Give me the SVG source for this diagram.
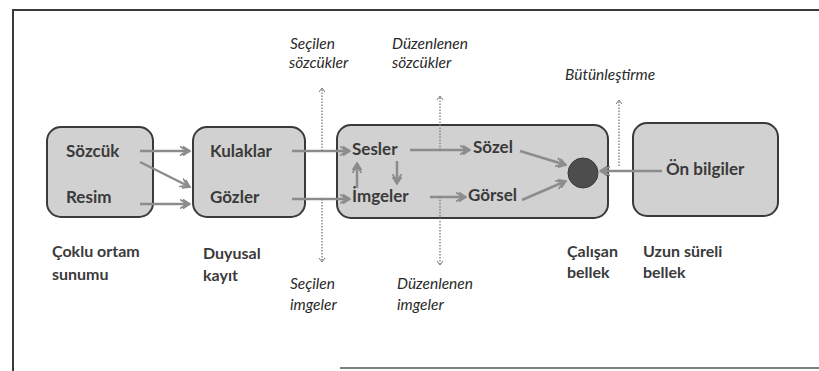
<svg xmlns="http://www.w3.org/2000/svg" width="819" height="371" viewBox="0 0 819 371">
  <style>
    .box { fill: #d1d1d1; stroke: #3a3a3a; stroke-width: 2; }
    .lbl { font-family: Lato, "Open Sans", sans-serif; font-weight: bold; font-size: 16px; fill: #3a3a3a; }
    .in { font-size: 17px; }
    .ital { font-family: Lato, "Open Sans", sans-serif; font-style: italic; font-size: 15.5px; fill: #2a2a2a; }
    .flow { fill: none; stroke: #8c8c8c; stroke-width: 2.5; marker-end: url(#chev); }
    .dot { fill: none; stroke: #7a7a7a; stroke-width: 1.3; stroke-dasharray: 1.5 1.5; marker-end: url(#tip); }
    .frame { stroke: #3a3a3a; stroke-width: 2; fill: none; }
  </style>
  <defs>
    <marker id="chev" viewBox="0 0 12 12" refX="10" refY="6" markerWidth="12" markerHeight="12" markerUnits="userSpaceOnUse" orient="auto">
      <path d="M3 1.5 L10 6 L3 10.5 M0 1.5 L7 6 L0 10.5" fill="none" stroke="#8c8c8c" stroke-width="1.6"/>
    </marker>
    <marker id="tip" viewBox="0 0 8 8" refX="4" refY="4" markerWidth="8" markerHeight="8" markerUnits="userSpaceOnUse" orient="auto">
      <path d="M0 1 L4 4 L0 7" fill="none" stroke="#7a7a7a" stroke-width="1"/>
    </marker>
  </defs>

  <rect width="819" height="371" fill="#ffffff"/>
  <!-- outer frame -->
  <path class="frame" d="M13 371 V10 H819"/>
  <path d="M340 368 H819" stroke="#555" stroke-width="1.5"/>

  <!-- multimedia presentation -->
  <g id="coklu-ortam">
    <rect class="box" x="47" y="127" width="106" height="90" rx="14"/>
    <text class="lbl in" x="66" y="157">Sözcük</text>
    <text class="lbl in" x="66" y="203">Resim</text>
  </g>

  <!-- sensory memory -->
  <g id="duyusal-kayit">
    <rect class="box" x="193" y="127" width="112" height="90" rx="14"/>
    <text class="lbl in" x="210" y="157">Kulaklar</text>
    <text class="lbl in" x="210" y="203">Gözler</text>
  </g>

  <!-- working memory -->
  <g id="calisan-bellek">
    <rect class="box" x="337" y="125" width="271" height="93" rx="14"/>
    <text class="lbl in" x="352" y="155">Sesler</text>
    <text class="lbl in" x="352" y="202">İmgeler</text>
    <text class="lbl in" x="473" y="153">Sözel</text>
    <text class="lbl in" x="468" y="201">Görsel</text>
    <circle cx="583" cy="173" r="15" fill="#4d4d4d" stroke="#3a3a3a" stroke-width="1"/>
  </g>

  <!-- long-term memory -->
  <g id="uzun-sureli-bellek">
    <rect class="box" x="633" y="123" width="145" height="93" rx="14"/>
    <text class="lbl in" x="666" y="175">Ön bilgiler</text>
  </g>

  <!-- column captions -->
  <g id="captions">
    <text class="lbl" x="52" y="257">Çoklu ortam</text>
    <text class="lbl" x="52" y="280">sunumu</text>
    <text class="lbl" x="203" y="259">Duyusal</text>
    <text class="lbl" x="203" y="281">kayıt</text>
    <text class="lbl" x="567" y="257">Çalışan</text>
    <text class="lbl" x="567" y="278">bellek</text>
    <text class="lbl" x="643" y="257">Uzun süreli</text>
    <text class="lbl" x="643" y="278">bellek</text>
  </g>

  <!-- process labels -->
  <g id="process-labels">
    <text class="ital" x="290" y="49">Seçilen</text>
    <text class="ital" x="289" y="68">sözcükler</text>
    <text class="ital" x="392" y="49">Düzenlenen</text>
    <text class="ital" x="392" y="68">sözcükler</text>
    <text class="ital" x="565" y="80">Bütünleştirme</text>
    <text class="ital" x="290" y="289">Seçilen</text>
    <text class="ital" x="290" y="310">imgeler</text>
    <text class="ital" x="397" y="289">Düzenlenen</text>
    <text class="ital" x="397" y="310">imgeler</text>
  </g>

  <!-- connectors -->
  <g id="connectors">
    <line class="flow" x1="140" y1="151" x2="190" y2="151"/>
    <line class="flow" x1="140" y1="162" x2="190" y2="187"/>
    <line class="flow" x1="140" y1="204" x2="190" y2="204"/>
    <line class="flow" x1="292" y1="151" x2="350" y2="151"/>
    <line class="flow" x1="292" y1="199" x2="350" y2="199"/>
    <line class="flow" x1="410" y1="150" x2="470" y2="150"/>
    <line class="flow" x1="397" y1="161" x2="397" y2="184"/>
    <line class="flow" x1="357" y1="188" x2="357" y2="163"/>
    <line class="flow" x1="430" y1="197" x2="466" y2="197"/>
    <line class="flow" x1="520" y1="151" x2="566" y2="165"/>
    <line class="flow" x1="522" y1="200" x2="566" y2="181"/>
    <line class="flow" x1="662" y1="171" x2="600" y2="171"/>
    <line class="dot" x1="322" y1="151" x2="322" y2="88"/>
    <line class="dot" x1="322" y1="199" x2="322" y2="262"/>
    <line class="dot" x1="440" y1="150" x2="440" y2="96"/>
    <line class="dot" x1="440" y1="197" x2="440" y2="265"/>
    <line class="dot" x1="619" y1="166" x2="619" y2="100"/>
  </g>
</svg>
